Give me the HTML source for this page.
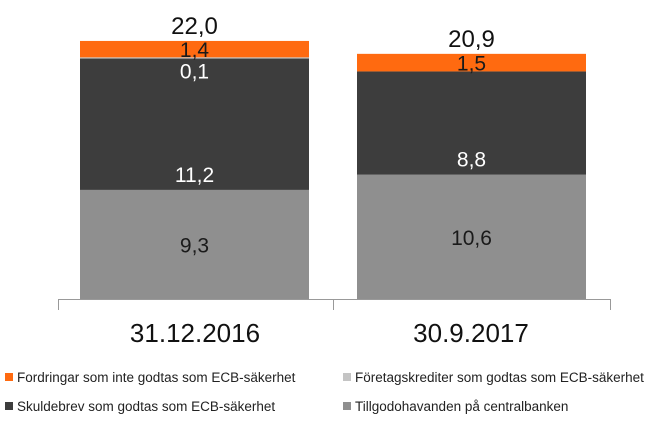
<!DOCTYPE html>
<html><head><meta charset="utf-8"><style>
body{margin:0;background:#fff;width:658px;height:427px;overflow:hidden;font-family:"Liberation Sans",sans-serif}
</style></head><body>
<svg id="chart" width="658" height="427" xmlns="http://www.w3.org/2000/svg"></svg>
<script>
const categories=["31.12.2016","30.9.2017"];
const tillgodo=[9.3,10.6];
const skuldebrev=[11.2,8.8];
const foretag=[0.1,0];
const fordringar=[1.4,1.5];
const totals=["22,0","20,9"];
const seriesNames=["Fordringar som inte godtas som ECB-säkerhet","Företagskrediter som godtas som ECB-säkerhet","Skuldebrev som godtas som ECB-säkerhet","Tillgodohavanden på centralbanken"];
const NS="http://www.w3.org/2000/svg";
const svg=document.getElementById('chart');
const base=299, pxPer=11.73;
const y=v=>base-v*pxPer;
const bx=[80,357], bw=229;
function mk(tag,attrs,parent){const e=document.createElementNS(NS,tag);for(const k in attrs)e.setAttribute(k,attrs[k]);(parent||svg).appendChild(e);return e;}
const fmt=v=>v.toFixed(1).replace('.',',');
const series=[
 {vals:tillgodo,color:"#8f8f8f",txt:"#1a1a1a",name:"bar-tillgodohavanden"},
 {vals:skuldebrev,color:"#3d3d3d",txt:"#ffffff",name:"bar-skuldebrev"},
 {vals:foretag,color:"#c4c4c4",txt:"#ffffff",name:"bar-foretagskrediter"},
 {vals:fordringar,color:"#ff6a10",txt:"#1a1a1a",name:"bar-fordringar"}];
categories.forEach((c,i)=>{
 let cum=0;
 series.forEach((s,si)=>{
  const v=s.vals[i];const y0=y(cum),y1=y(cum+v);
  const r=mk('rect',{x:bx[i],y:y1,width:bw,height:Math.max(0,y0-y1),fill:s.color});
  
  
  cum+=v;
 });
 // labels
 let c0=0;
 const labs=[[tillgodo[i],"#1a1a1a",(y(0)+y(tillgodo[i]))/2+8],
   [skuldebrev[i],"#ffffff",y(tillgodo[i])-8]];
 labs.forEach(([v,col,ty])=>{
  const t=mk('text',{x:bx[i]+bw/2,y:ty,'text-anchor':'middle','font-size':21,fill:col});t.textContent=fmt(v);
  
  
 });
 const top2=tillgodo[i]+skuldebrev[i];
 if(foretag[i]>0){const t=mk('text',{x:bx[i]+bw/2,y:y(top2)+20,'text-anchor':'middle','font-size':21,fill:"#fff"});t.textContent=fmt(foretag[i]);
  
  }
 const top3=top2+foretag[i];
 const t4=mk('text',{x:bx[i]+bw/2,y:(y(top3)+y(top3+fordringar[i]))/2+8,'text-anchor':'middle','font-size':21,fill:"#1a1a1a"});t4.textContent=fmt(fordringar[i]);
 
 
 const tt=mk('text',{x:bx[i]+bw/2,y:y(top3+fordringar[i])-7,'text-anchor':'middle','font-size':24,fill:"#111"});tt.textContent=totals[i];
 
 
 const cl=mk('text',{x:[195,471][i],y:342,'text-anchor':'middle','font-size':26,fill:"#111"});cl.textContent=c;
 
 
});
const ax=mk('path',{d:'M58.5 310V299.5H610.5V310M333.5 299.5V310',stroke:'#999',fill:'none','stroke-width':1});


const legPos=[[5,382,"#ff6a10"],[343,382,"#c4c4c4"],[5,411,"#3d3d3d"],[343,411,"#8f8f8f"]];
seriesNames.forEach((n,i)=>{
 const [lx,ly,col]=legPos[i];
 const g=mk('g',{});
 
 
 mk('rect',{x:lx,y:ly-9,width:8,height:8,fill:col},g);
 const t=mk('text',{x:lx+12,y:ly,'font-size':13.5,fill:'#222'},g);t.textContent=n;
});
</script>
</body></html>
